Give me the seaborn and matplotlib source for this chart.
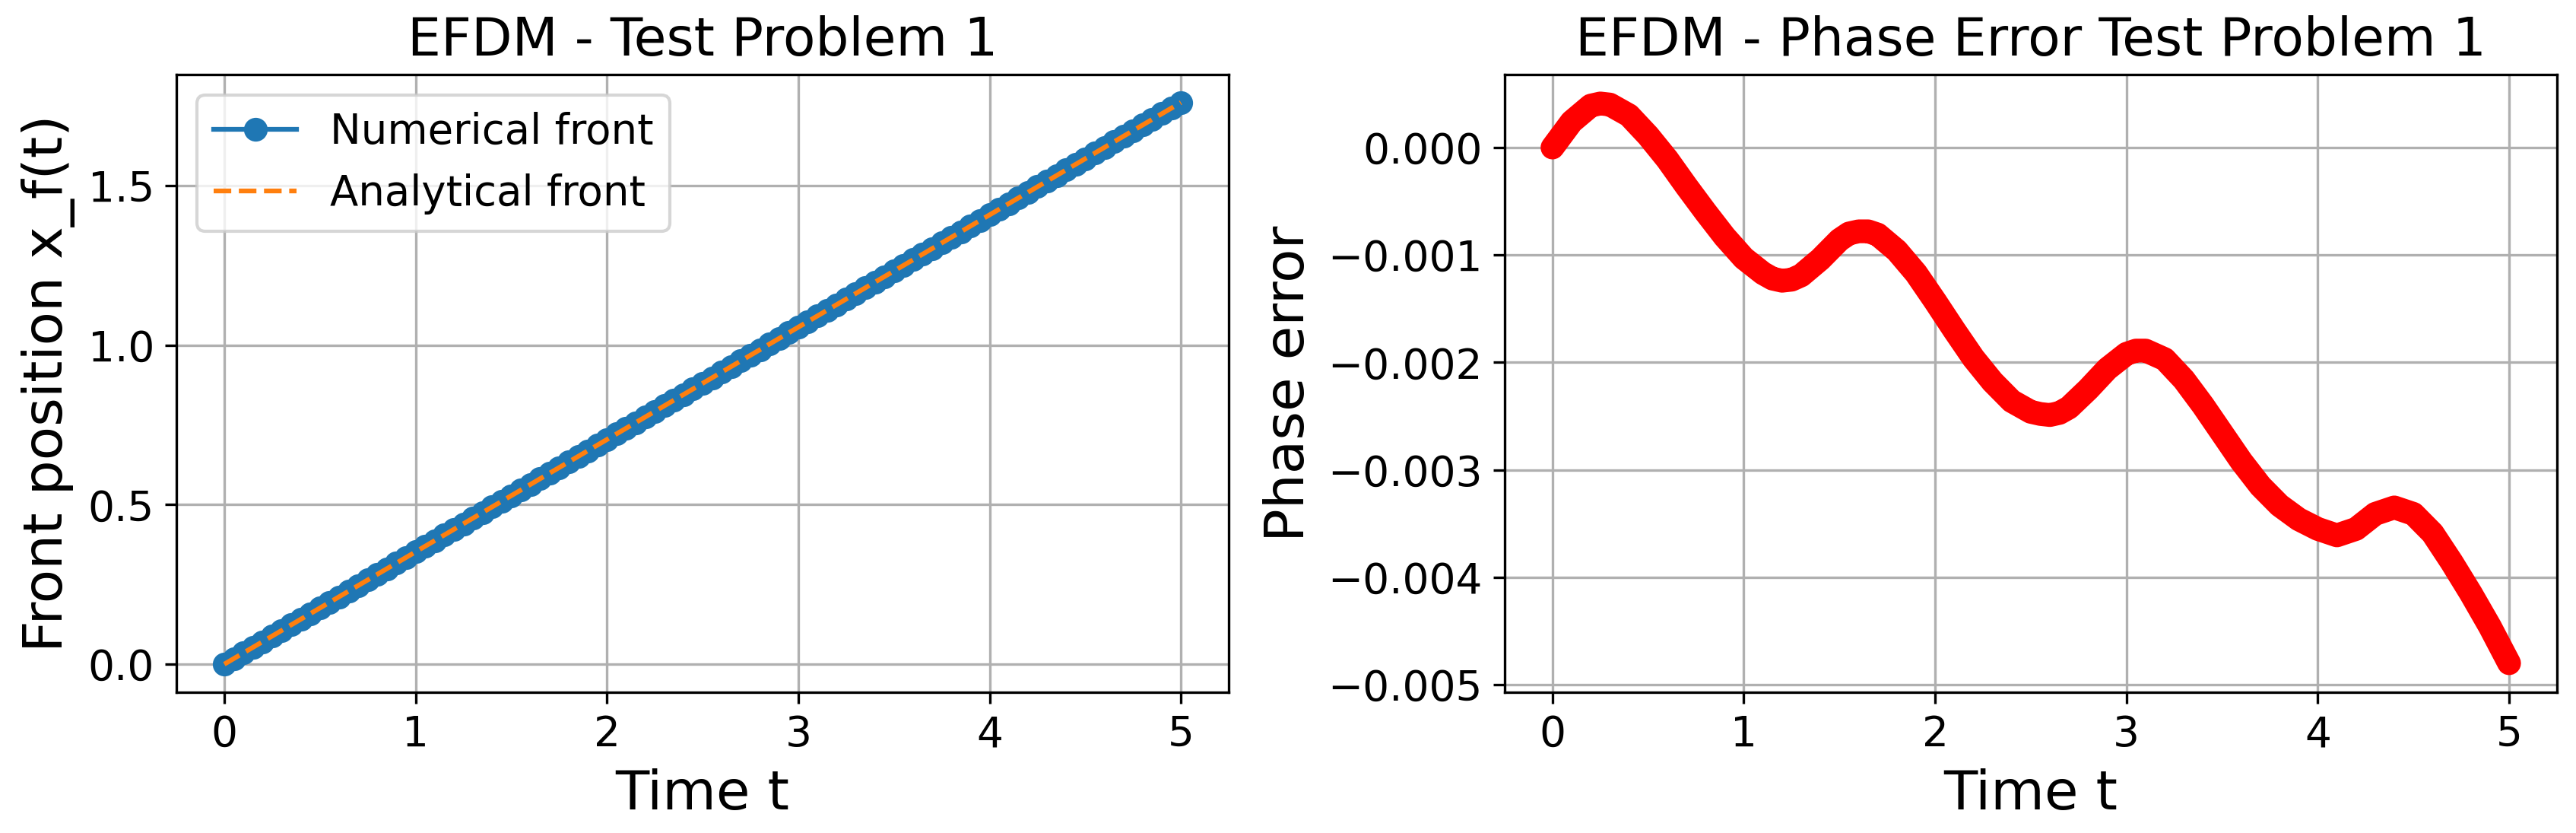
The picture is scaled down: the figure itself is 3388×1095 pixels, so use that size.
import numpy as np
import pandas as pd
import seaborn as sns
import matplotlib.pyplot as plt

# numerical front position
time_num = [0.00, 0.05, 0.10, 0.15, 0.20, 0.25, 0.30, 0.35, 0.40, 0.45,
            0.50, 0.55, 0.60, 0.65, 0.70, 0.75, 0.80, 0.85, 0.90, 0.95,
            1.00, 1.05, 1.10, 1.15, 1.20, 1.25, 1.30, 1.35, 1.40, 1.45,
            1.50, 1.55, 1.60, 1.65, 1.70, 1.75, 1.80, 1.85, 1.90, 1.95,
            2.00, 2.05, 2.10, 2.15, 2.20, 2.25, 2.30, 2.35, 2.40, 2.45,
            2.50, 2.55, 2.60, 2.65, 2.70, 2.75, 2.80, 2.85, 2.90, 2.95,
            3.00, 3.05, 3.10, 3.15, 3.20, 3.25, 3.30, 3.35, 3.40, 3.45,
            3.50, 3.55, 3.60, 3.65, 3.70, 3.75, 3.80, 3.85, 3.90, 3.95,
            4.00, 4.05, 4.10, 4.15, 4.20, 4.25, 4.30, 4.35, 4.40, 4.45,
            4.50, 4.55, 4.60, 4.65, 4.70, 4.75, 4.80, 4.85, 4.90, 4.95,
            5.00]
front_num = [0.000, 0.018, 0.035, 0.053, 0.070, 0.088, 0.106, 0.123, 0.141, 0.158,
             0.176, 0.194, 0.211, 0.229, 0.247, 0.264, 0.282, 0.299, 0.317, 0.335,
             0.352, 0.370, 0.387, 0.405, 0.423, 0.440, 0.458, 0.475, 0.493, 0.511,
             0.528, 0.546, 0.564, 0.581, 0.599, 0.616, 0.634, 0.652, 0.669, 0.687,
             0.704, 0.722, 0.740, 0.757, 0.775, 0.792, 0.810, 0.828, 0.845, 0.863,
             0.881, 0.898, 0.916, 0.933, 0.951, 0.969, 0.986, 1.004, 1.021, 1.039,
             1.057, 1.074, 1.092, 1.109, 1.127, 1.145, 1.162, 1.180, 1.197, 1.215,
             1.233, 1.250, 1.268, 1.286, 1.303, 1.321, 1.338, 1.356, 1.374, 1.391,
             1.409, 1.426, 1.444, 1.462, 1.479, 1.497, 1.514, 1.532, 1.550, 1.567,
             1.585, 1.603, 1.620, 1.638, 1.655, 1.673, 1.691, 1.708, 1.726, 1.743,
             1.761]

# analytical front (straight line)
time_exact = [0.0, 5.0]
front_exact = [0.0, 1.761]

# phase error (right panel)
time_err = [0.0, 0.1, 0.2, 0.25, 0.3, 0.4, 0.5, 0.6, 0.7, 0.8, 0.9,
            1.0, 1.1, 1.15, 1.2, 1.25, 1.3, 1.4, 1.5, 1.55, 1.6, 1.65, 1.7, 1.8, 1.9,
            2.0, 2.1, 2.2, 2.3, 2.4, 2.5, 2.55, 2.6, 2.65, 2.7, 2.8, 2.9,
            3.0, 3.05, 3.1, 3.2, 3.3, 3.4, 3.5, 3.6, 3.7, 3.8, 3.9,
            4.0, 4.1, 4.2, 4.3, 4.4, 4.5, 4.6, 4.7, 4.8, 4.9,
            5.0]
phase_err = [0.00000, 0.00024, 0.00039, 0.00041, 0.00040, 0.00030, 0.00011, -0.00011, -0.00036, -0.00060, -0.00083,
             -0.00103, -0.00117, -0.00122, -0.00124, -0.00123, -0.00119, -0.00104, -0.00086, -0.00080, -0.00078, -0.00078, -0.00081, -0.00096, -0.00117,
             -0.00143, -0.00170, -0.00196, -0.00218, -0.00236, -0.00246, -0.00248, -0.00249, -0.00247, -0.00242, -0.00225, -0.00206,
             -0.00192, -0.00189, -0.00189, -0.00197, -0.00216, -0.00240, -0.00266, -0.00292, -0.00315, -0.00333, -0.00346,
             -0.00355, -0.00361, -0.00355, -0.00341, -0.00335, -0.00341, -0.00359, -0.00386, -0.00415, -0.00446,
             -0.00480]

plt.rcParams['font.family'] = ['DejaVu Sans']

fig = plt.figure(figsize=(3388 / 300, 1095 / 300), dpi=300)
ax1 = fig.add_axes([0.0685, 0.169, 0.4085, 0.7416])
ax2 = fig.add_axes([0.5841, 0.169, 0.4085, 0.7416])

# left: front position
sns.lineplot(x=time_num, y=front_num, ax=ax1, color='#1f77b4', marker='o',
             markersize=6.5, markeredgecolor='#1f77b4', markeredgewidth=1,
             linewidth=1.5, label='Numerical front')
sns.lineplot(x=time_exact, y=front_exact, ax=ax1, color='#ff7f0e',
             linestyle='--', linewidth=1.5, label='Analytical front')
ax1.set_xlim(-0.25, 5.25)
ax1.set_ylim(-0.088, 1.849)
ax1.set_title('EFDM - Test Problem 1', fontsize=16.7)
ax1.set_xlabel('Time t', fontsize=17.4)
ax1.set_ylabel('Front position x_f(t)', fontsize=17.4)
ax1.legend(loc='upper left', fontsize=13.1)
ax1.grid(True)

# right: phase error
sns.lineplot(x=time_err, y=phase_err, ax=ax2, color='red', linewidth=7.5,
             solid_capstyle='round', solid_joinstyle='round')
ax2.set_xlim(-0.25, 5.25)
ax2.set_ylim(-0.00507, 0.00068)
ax2.set_title('EFDM - Phase Error Test Problem 1', fontsize=16.7)
ax2.set_xlabel('Time t', fontsize=17.4)
ax2.set_ylabel('Phase error', fontsize=17.4)
ax2.grid(True)

for ax in (ax1, ax2):
    ax.tick_params(labelsize=13.2)
    ax.set_xticks([0, 1, 2, 3, 4, 5])

fig.savefig('out.png', dpi=300)
